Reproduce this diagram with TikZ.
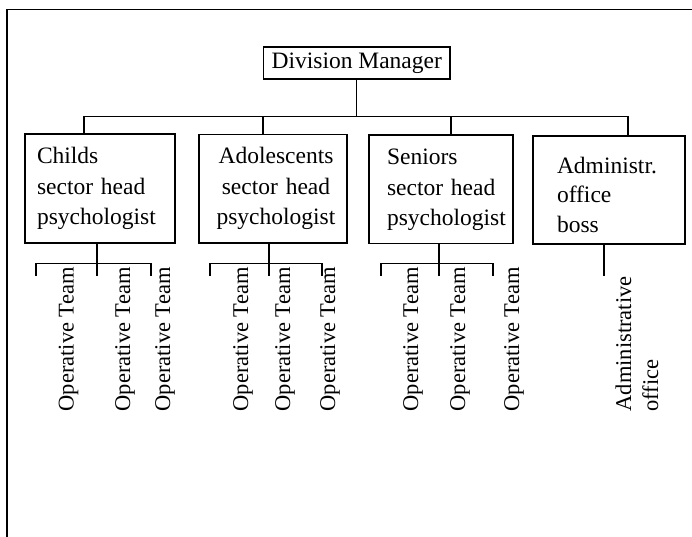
\documentclass[tikz,border=0pt]{standalone}
\usepackage{fontspec}
\setmainfont{Liberation Serif}
\begin{document}
\begin{tikzpicture}[x=1pt,y=-1pt,
  line width=1.2pt,
  box/.style={draw, rectangle, inner sep=0pt, font=\fontsize{23.5}{30.5}\selectfont},
  lbox/.style={box, align=left},
  team/.style={rotate=90, anchor=base west, inner sep=0pt, font=\fontsize{22.5}{27}\selectfont},
]
\useasboundingbox (0,0) rectangle (692,536);
% outer frame (open at right and bottom)
\draw (7,537) -- (7,9.5) -- (693,9.5);

% top box
\node[box, minimum width=186.5pt, minimum height=32pt] (dm) at (356.75,63) {Division Manager};

% second level
\node[lbox, text width=150pt, minimum height=109pt] (childs) at (100,188.5)
  {\leftskip=12pt\parskip=0pt\rule{0pt}{17pt}Childs\\sector head\\psychologist\rule[-5pt]{0pt}{5pt}\par};
\node[box, align=center, text width=148pt, minimum height=108.5pt] (adol) at (273,188.75)
  {\leftskip=6pt plus 1fil\rightskip=0pt plus 1fil\parfillskip=0pt\parskip=0pt\rule{0pt}{16.5pt}Adolescents\\sector head\\psychologist\rule[-5pt]{0pt}{5pt}\par};
\node[lbox, text width=144pt, minimum height=108.3pt] (sen) at (441,189.15)
  {\leftskip=18pt\parskip=0pt\rule{0pt}{17.6pt}Seniors\\sector head\\psychologist\rule[-5pt]{0pt}{5pt}\par};
\node[lbox, text width=152pt, minimum height=108pt, font=\fontsize{23.5}{29.5}\selectfont] (adm) at (609,190)
  {\leftskip=24pt\parskip=0pt\rule{0pt}{30pt}Administr.\\office\\boss\rule[-5pt]{0pt}{5pt}\par};

% bus from top box
\coordinate (bus) at (0,116.5);
\coordinate (t1) at ([xshift=-16pt]childs.north);
\coordinate (t2) at ([xshift=-10pt]adol.north);
\coordinate (t3) at ([xshift=10pt]sen.north);
\coordinate (t4) at ([xshift=19pt]adm.north);
\draw (dm.south) -- (dm.south |- bus);
\draw (t1) -- (t1 |- bus) -- (t4 |- bus) -- (t4);
\draw (t2) -- (t2 |- bus);
\draw (t3) -- (t3 |- bus);

% third level buses
\coordinate (sb) at (0,263.5);
\coordinate (se) at (0,275.5);
\coordinate (b1) at ([xshift=-3pt]childs.south);
\coordinate (b2) at ([xshift=-4pt]adol.south);
\coordinate (b3) at ([xshift=-2pt]sen.south);
\coordinate (b4) at ([xshift=-5pt]adm.south);
\coordinate (g1l) at (36,275.5);  \coordinate (g1r) at (151,275.5);
\coordinate (g2l) at (210,275.5); \coordinate (g2r) at (322,275.5);
\coordinate (g3l) at (381,275.5); \coordinate (g3r) at (493,275.5);
\draw (b1) -- (b1 |- se);
\draw (g1l) -- (g1l |- sb) -- (g1r |- sb) -- (g1r);
\draw (b2) -- (b2 |- se);
\draw (g2l) -- (g2l |- sb) -- (g2r |- sb) -- (g2r);
\draw (b3) -- (b3 |- se);
\draw (g3l) -- (g3l |- sb) -- (g3r |- sb) -- (g3r);
\draw (b4) -- (b4 |- se);

% rotated labels
\node[team] (op1) at (73.5,412) {Operative Team};
\node[team] (op2) at (130,412) {Operative Team};
\node[team] (op3) at (170,412) {Operative Team};
\node[team] (op4) at (248,412) {Operative Team};
\node[team] (op5) at (290,412) {Operative Team};
\node[team] (op6) at (335,412) {Operative Team};
\node[team] (op7) at (418,412) {Operative Team};
\node[team] (op8) at (465,412) {Operative Team};
\node[team] (op9) at (519,412) {Operative Team};
\node[rotate=90, anchor=south west, inner sep=0pt, align=left,
      font=\fontsize{22.5}{27}\selectfont] (office) at (659,412) {Administrative\\office};
\end{tikzpicture}
\end{document}
